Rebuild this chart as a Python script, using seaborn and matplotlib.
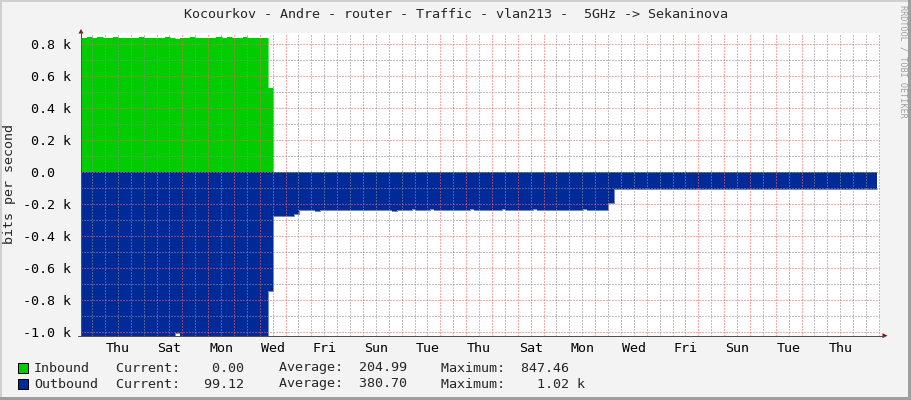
import seaborn as sns
import matplotlib.pyplot as plt
from matplotlib.patches import Rectangle, Polygon
from matplotlib.lines import Line2D
import numpy as np

# time in days, 0 = Thursday 00:00 (first red grid line)
in_t = [-0.93, -0.71, -0.52, -0.30, -0.09, 0.30, 0.52, 1.33, 1.51, 2.33, 2.52,
        2.71, 2.91, 3.29, 3.49, 4.30, 4.52, 4.72, 4.91, 5.34, 5.52, 6.33, 6.50, 29.91]
in_bits = [841, 847, 841, 847, 841, 847, 841, 847, 841, 847, 841,
           835, 841, 847, 841, 847, 841, 847, 841, 847, 841, 529, 0, 0]

out_t = [-0.93, 2.71, 2.91, 6.33, 6.50, 7.33, 7.52, 8.14, 8.33, 11.11, 11.31,
         11.89, 12.02, 12.60, 12.75, 14.15, 14.30, 15.38, 15.52, 16.60, 16.75,
         18.54, 18.70, 19.51, 19.74, 29.91]
out_bits = [1020, 1005, 1020, 740, 273, 261, 236, 240, 236, 240, 236,
            229, 236, 229, 236, 229, 236, 229, 236, 229, 236,
            229, 236, 194, 101, 101]

day_names = ["Thu", "Sat", "Mon", "Wed", "Fri", "Sun", "Tue", "Thu",
             "Sat", "Mon", "Wed", "Fri", "Sun", "Tue", "Thu"]
y_ticks = [-1000, -800, -600, -400, -200, 0, 200, 400, 600, 800]
y_labels = ["-1.0 k", "-0.8 k", "-0.6 k", "-0.4 k", "-0.2 k", "0.0  ",
            "0.2 k", "0.4 k", "0.6 k", "0.8 k"]

title = "Kocourkov - Andre - router - Traffic - vlan213 -  5GHz -> Sekaninova"
legend_names = ["Inbound", "Outbound"]
legend_colors = ["#00CC00", "#002A97"]
legend_current = ["0.00", "99.12"]
legend_average = ["204.99", "380.70"]
legend_maximum = ["847.46", "1.02"]
legend_max_unit = ["", " k"]

sns.set_style("white")
plt.rcParams['font.family'] = ['DejaVu Sans Mono']
FS = 9.6
W, H = 911, 400


def fx(px):
    return px / W


def fy(py):
    return 1 - py / H


fig = plt.figure(figsize=(9.11, 4.0), dpi=100, facecolor="#F3F3F3")
ax = fig.add_axes([fx(81), fy(335.7), (880 - 81) / W, (335.7 - 33) / H])
ax.set_facecolor("white")

# areas
ax.fill_between(in_t, in_bits, step="post", color="#00CC00", lw=0, zorder=1)
neg_out = [-v for v in out_bits]
ax.fill_between(out_t, neg_out, step="post", color="#002A97", lw=0, zorder=1)
sns.lineplot(x=in_t, y=in_bits, drawstyle="steps-post", color="#00CC00",
             lw=0.4, ax=ax, estimator=None, zorder=1.2)
sns.lineplot(x=out_t, y=neg_out, drawstyle="steps-post", color="#002A97",
             lw=0.4, ax=ax, estimator=None, zorder=1.2)

ax.set_xlim(-0.93, 30.04)
ax.set_ylim(-1021, 871)

# x ticks: red at midnight, gray at noon, labels at noon every 2 days
ax.set_xticks(np.arange(0, 31), labels=[""] * 31)
minor_pos = [k + 0.5 for k in range(-1, 30)]
minor_lab = [day_names[k // 2] if (k >= 0 and k % 2 == 0) else "" for k in range(-1, 30)]
ax.set_xticks(minor_pos, labels=minor_lab, minor=True)

ax.set_yticks(y_ticks, labels=y_labels)
ax.set_yticks(np.arange(-1000, 900, 100), minor=True)

ax.set_axisbelow(False)
ax.grid(which="major", color="#FF5F5F", alpha=0.55, linestyle=(0, (1, 1)), lw=1.0,
        antialiased=False)
ax.grid(which="minor", color="#8F8F8F", alpha=0.55, linestyle=(0, (1, 1)), lw=1.0,
        antialiased=False)
ax.tick_params(axis="both", which="both", direction="out", length=2.2, width=0.72,
               colors="#A0A0A0", labelcolor="black", labelsize=FS)
ax.tick_params(axis="x", which="both", pad=2)
ax.tick_params(axis="y", which="both", pad=5)
for s in ax.spines.values():
    s.set_visible(False)

# axis lines with arrows
fig.add_artist(Line2D([fx(81), fx(81)], [fy(336), fy(31)], color="#505050", lw=0.72))
fig.add_artist(Line2D([fx(78), fx(884)], [fy(335.7), fy(335.7)], color="#505050", lw=0.72))
fig.add_artist(Polygon([[fx(78.5), fy(33.5)], [fx(83.5), fy(33.5)], [fx(81), fy(29)]],
                       closed=True, color="#7F1010", lw=0))
fig.add_artist(Polygon([[fx(882.5), fy(333.2)], [fx(882.5), fy(338.2)], [fx(887.5), fy(335.7)]],
                       closed=True, color="#7F1010", lw=0))

# texts
fig.text(0.5, fy(14), title, ha="center", va="center", fontsize=FS)
fig.text(fx(10), fy(184.5), "bits per second", rotation=90, ha="center",
         va="center", fontsize=FS)
fig.text(fx(903), fy(5), "RRDTOOL / TOBI OETIKER", rotation=270, ha="center",
         va="top", fontsize=6.1, color="#A0A0A0")

for i in range(2):
    yc = 368 + 16 * i
    fig.add_artist(Rectangle((fx(17.5), fy(yc + 5)), 10 / W, 10 / H,
                             facecolor=legend_colors[i], edgecolor="black", lw=0.72))
    chunks = [
        (34, legend_names[i]),
        (116, f"Current:{legend_current[i]:>8}"),
        (279, f"Average:{legend_average[i]:>8}"),
        (440.7, f"Maximum:{legend_maximum[i]:>8}{legend_max_unit[i]}"),
    ]
    for x0, s in chunks:
        fig.text(fx(x0), fy(yc), s, ha="left", va="center", fontsize=FS)

# canvas shading border
fig.add_artist(Rectangle((0, fy(2)), 1, 2 / H, facecolor="#CFCFCF", lw=0))
fig.add_artist(Rectangle((0, 0), 2 / W, 1, facecolor="#CFCFCF", lw=0))
fig.add_artist(Rectangle((0, 0), 1, 3 / H, facecolor="#9E9E9E", lw=0))
fig.add_artist(Rectangle((fx(908), 0), 3 / W, 1, facecolor="#9E9E9E", lw=0))

fig.savefig("out.png", dpi=100, facecolor=fig.get_facecolor())
